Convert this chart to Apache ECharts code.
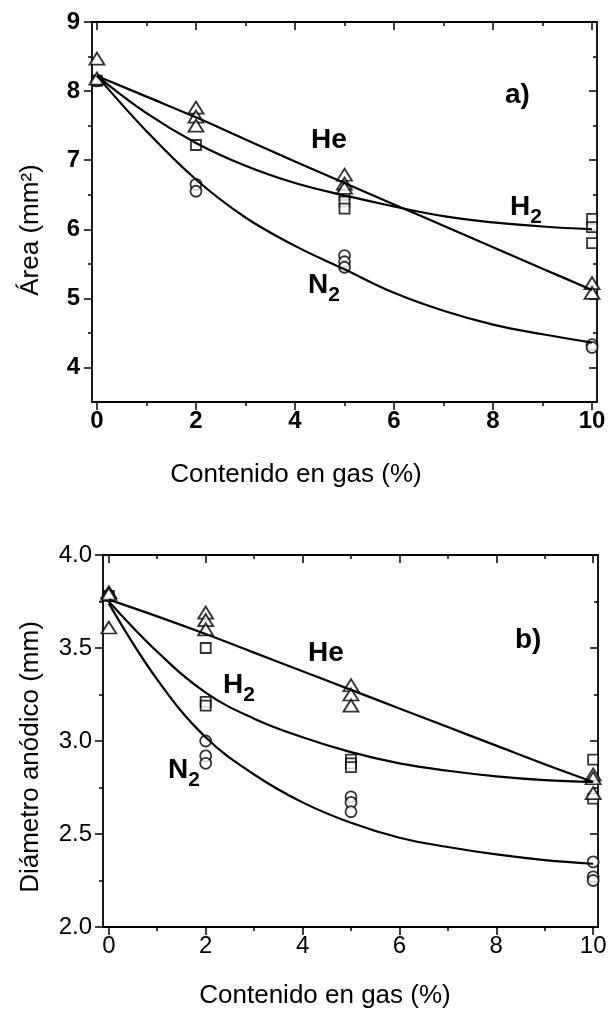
<!DOCTYPE html>
<html lang="es">
<head>
    <meta charset="UTF-8">
    <title>Área y diámetro anódico</title>
    <script src="https://cdn.jsdelivr.net/npm/echarts@6/dist/echarts.min.js"></script>
    <style>
        html, body { margin: 0; padding: 0; background: #fff; }
        #chart { width: 611px; height: 1012px; }
    </style>
</head>
<body>
<div id="chart"></div>
<script>
    // --- panel a) area (mm2) ---
    const heAreaPts = [[0, 8.47], [0, 8.18], [2, 7.76], [2, 7.63], [2, 7.5], [5, 6.79], [5, 6.66], [5, 6.6], [10, 5.22], [10, 5.08]];
    const h2AreaPts = [[0, 8.15], [2, 7.22], [5, 6.5], [5, 6.4], [5, 6.3], [10, 6.15], [10, 6.03], [10, 5.8]];
    const n2AreaPts = [[0, 8.15], [2, 6.65], [2, 6.55], [5, 5.62], [5, 5.53], [5, 5.45], [10, 4.33], [10, 4.29]];

    // fitted curves at each integer %
    const fitX = [0, 1, 2, 3, 4, 5, 6, 7, 8, 9, 10];
    const heAreaFit = [8.22, 7.92, 7.62, 7.30, 6.98, 6.67, 6.36, 6.05, 5.74, 5.43, 5.12];
    const h2AreaFit = [8.22, 7.68, 7.25, 6.92, 6.67, 6.49, 6.33, 6.19, 6.10, 6.04, 6.00];
    const n2AreaFit = [8.22, 7.42, 6.72, 6.17, 5.76, 5.42, 5.08, 4.82, 4.62, 4.48, 4.36];

    // --- panel b) anode diameter (mm) ---
    const heDiamPts = [[0, 3.8], [0, 3.79], [0, 3.61], [2, 3.69], [2, 3.65], [2, 3.6], [5, 3.3], [5, 3.25], [5, 3.19], [10, 2.82], [10, 2.8], [10, 2.72]];
    const h2DiamPts = [[0, 3.78], [2, 3.5], [2, 3.21], [2, 3.19], [5, 2.9], [5, 2.88], [5, 2.86], [10, 2.9], [10, 2.69]];
    const n2DiamPts = [[0, 3.78], [2, 3.0], [2, 2.92], [2, 2.88], [5, 2.7], [5, 2.67], [5, 2.62], [10, 2.35], [10, 2.27], [10, 2.25]];

    const heDiamFit = [3.76, 3.67, 3.575, 3.475, 3.375, 3.275, 3.175, 3.075, 2.975, 2.875, 2.78];
    const h2DiamFit = [3.75, 3.48, 3.26, 3.12, 3.02, 2.94, 2.88, 2.84, 2.81, 2.79, 2.78];
    const n2DiamFit = [3.74, 3.33, 3.02, 2.82, 2.67, 2.56, 2.48, 2.43, 2.39, 2.36, 2.34];

    // ticks
    const xMajor = [0, 2, 4, 6, 8, 10];
    const xMinor = [1, 3, 5, 7, 9];
    const areaMajor = [4, 5, 6, 7, 8, 9];
    const areaMinor = [4.5, 5.5, 6.5, 7.5, 8.5];
    const diamMajor = [2.0, 2.5, 3.0, 3.5, 4.0];
    const diamMinor = [2.25, 2.75, 3.25, 3.75];

    const FONT = '"Liberation Sans", Arial, sans-serif';

    // four axes per side pair: labelled major, minor ticks, mirrored major, mirrored minor
    function boxAxes(gi, isX, min, max, major, minor, label) {
        const lo = isX ? 'bottom' : 'left';
        const hi = isX ? 'top' : 'right';
        function one(pos, ticks, len, inside, showLine, lab) {
            return {
                type: 'value', gridIndex: gi, position: pos, min: min, max: max,
                splitLine: { show: false },
                axisLine: { show: showLine, onZero: false, lineStyle: { color: '#000', width: 1.8 } },
                axisTick: { show: true, customValues: ticks, length: len, inside: inside, lineStyle: { color: '#000', width: 1.5 } },
                axisLabel: lab ? Object.assign({ show: true, customValues: major, color: '#000', fontFamily: FONT, fontSize: 24 }, lab) : { show: false }
            };
        }
        return [
            one(lo, major, 8, false, true, label),
            one(lo, minor, 4, false, false, null),
            one(hi, major, 8, true, true, null),
            one(hi, minor, 4, true, false, null)
        ];
    }

    const xAxes = [].concat(
        boxAxes(0, true, -0.1, 10.1, xMajor, xMinor, { fontWeight: 'bold', margin: 7 }),
        boxAxes(1, true, -0.12, 10.1, xMajor, xMinor, { margin: 7 })
    );
    const yAxes = [].concat(
        boxAxes(0, false, 3.5, 9, areaMajor, areaMinor, { fontWeight: 'bold', margin: 12 }),
        boxAxes(1, false, 2.0, 4.0, diamMajor, diamMinor, { margin: 11, formatter: v => v.toFixed(1) })
    );

    function pts(data, symbol, size, xi, yi) {
        return {
            type: 'scatter', xAxisIndex: xi, yAxisIndex: yi, data: data,
            symbol: symbol, symbolSize: size, z: 2,
            itemStyle: { color: '#fff', borderColor: '#000', borderWidth: 1.8 }
        };
    }
    function fit(vals, xi, yi) {
        return {
            type: 'line', xAxisIndex: xi, yAxisIndex: yi,
            data: fitX.map((x, i) => [x, vals[i]]),
            smooth: 0.4, showSymbol: false, z: 3,
            lineStyle: { color: '#000', width: 2.2 }
        };
    }

    const TRI = [15, 12], SQ = 10, CIR = 11;

    const labelRich = {
        m: { fontFamily: FONT, fontSize: 28, fontWeight: 'bold', color: '#000', verticalAlign: 'top', lineHeight: 28 },
        s: { fontFamily: FONT, fontSize: 21, fontWeight: 'bold', color: '#000', verticalAlign: 'top', lineHeight: 21, padding: [14, 0, 0, 0] }
    };
    function tag(text, left, top) {
        return { text: text, left: left, top: top, padding: 0, itemGap: 0, textStyle: { rich: labelRich } };
    }

    const chart = echarts.init(document.getElementById('chart'));
    chart.setOption({
        animation: false,
        backgroundColor: '#fff',
        grid: [
            { left: 92, top: 22, width: 505, height: 380, outerBoundsMode: 'none' },
            { left: 103, top: 555, width: 495, height: 372, outerBoundsMode: 'none' }
        ],
        xAxis: xAxes,
        yAxis: yAxes,
        title: [
            tag('{m|He}', 311, 126),
            tag('{m|H}{s|2}', 510, 193),
            tag('{m|N}{s|2}', 308, 271),
            tag('{m|a)}', 505, 81),
            tag('{m|He}', 308, 639),
            tag('{m|H}{s|2}', 223, 671),
            tag('{m|N}{s|2}', 168, 756),
            tag('{m|b)}', 515, 626)
        ],
        graphic: [
            { type: 'text', x: 31, y: 230, rotation: Math.PI / 2,
              style: { text: 'Área (mm²)', font: '26px ' + FONT, fill: '#000', textAlign: 'center', textVerticalAlign: 'middle' } },
            { type: 'text', x: 296, y: 475,
              style: { text: 'Contenido en gas (%)', font: '26px ' + FONT, fill: '#000', textAlign: 'center', textVerticalAlign: 'middle' } },
            { type: 'text', x: 31, y: 757, rotation: Math.PI / 2,
              style: { text: 'Diámetro anódico (mm)', font: '26px ' + FONT, fill: '#000', textAlign: 'center', textVerticalAlign: 'middle' } },
            { type: 'text', x: 325, y: 996,
              style: { text: 'Contenido en gas (%)', font: '26px ' + FONT, fill: '#000', textAlign: 'center', textVerticalAlign: 'middle' } }
        ],
        series: [
            pts(h2AreaPts, 'rect', SQ, 0, 0),
            pts(n2AreaPts, 'circle', CIR, 0, 0),
            pts(heAreaPts, 'triangle', TRI, 0, 0),
            fit(heAreaFit, 0, 0),
            fit(h2AreaFit, 0, 0),
            fit(n2AreaFit, 0, 0),

            pts(h2DiamPts, 'rect', SQ, 4, 4),
            pts(n2DiamPts, 'circle', CIR, 4, 4),
            pts(heDiamPts, 'triangle', TRI, 4, 4),
            fit(heDiamFit, 4, 4),
            fit(h2DiamFit, 4, 4),
            fit(n2DiamFit, 4, 4)
        ]
    });
</script>
</body>
</html>
